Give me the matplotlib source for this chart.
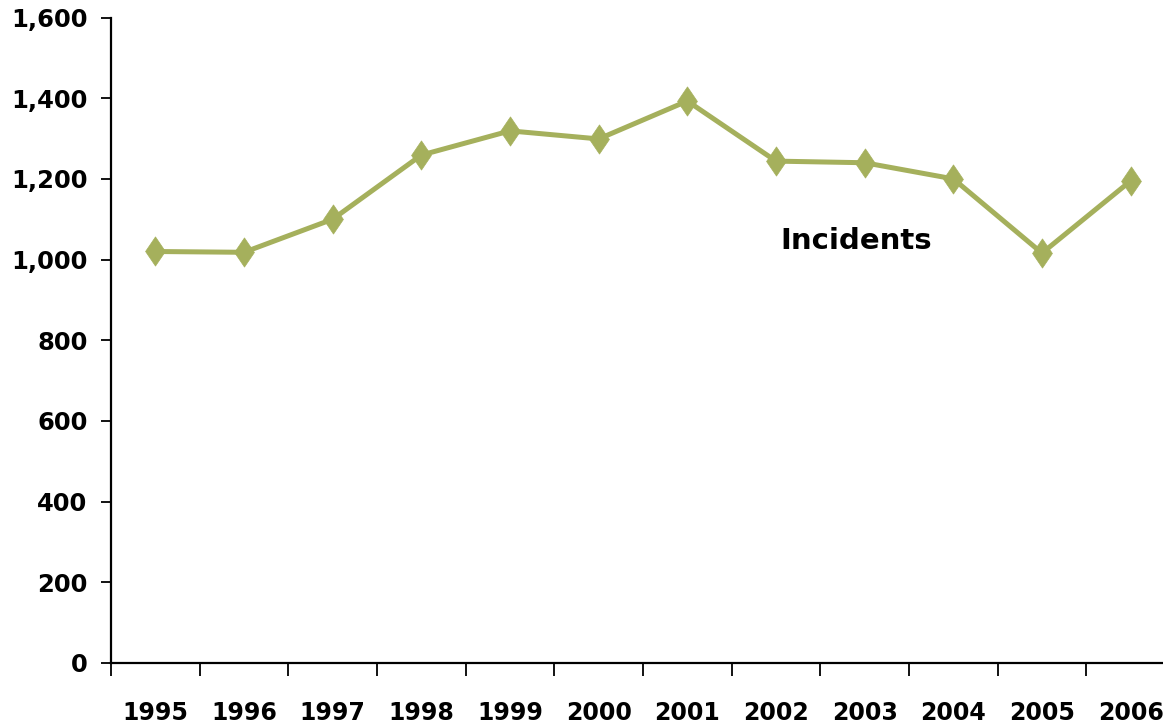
import matplotlib
matplotlib.use("Agg")
import matplotlib.pyplot as plt
from matplotlib.path import Path
from matplotlib.ticker import FixedLocator, FuncFormatter

years = ["1995", "1996", "1997", "1998", "1999", "2000",
         "2001", "2002", "2003", "2004", "2005", "2006"]
incidents = [1020, 1018, 1100, 1259, 1319, 1299, 1393, 1244, 1240, 1200, 1016, 1195]
y_ticks = [0, 200, 400, 600, 800, 1000, 1200, 1400, 1600]

line_color = "#A5B05C"

# diamond a bit wider than matplotlib's thin 'd'
diamond = Path([(0, 1), (0.68, 0), (0, -1), (-0.68, 0), (0, 1)],
               [Path.MOVETO, Path.LINETO, Path.LINETO, Path.LINETO, Path.CLOSEPOLY])

fig = plt.figure(figsize=(11.63, 7.25), dpi=100)
# the category axis runs past the right edge, as in the original slide
ax = fig.add_axes([111 / 1163, 62 / 725, 1064 / 1163, 645.5 / 725])

x = list(range(len(years)))
ax.plot(x, incidents, color=line_color, linewidth=3.6,
        marker=diamond, markersize=21, markerfacecolor=line_color,
        markeredgecolor=line_color, markeredgewidth=0.5)

ax.text(7.05, 1046, "Incidents", fontsize=21, fontweight="bold",
        ha="left", va="center")

ax.set_xlim(-0.5, len(years) - 0.5)
ax.set_ylim(0, 1600)

# ticks between categories, labels at category centres
ax.xaxis.set_major_locator(FixedLocator([i - 0.5 for i in range(len(years) + 1)]))
ax.xaxis.set_major_formatter(FuncFormatter(lambda v, p: ""))
ax.xaxis.set_minor_locator(FixedLocator(x))
ax.set_xticklabels(years, minor=True)
ax.tick_params(axis="x", which="major", length=9, width=1.3, direction="out")
ax.tick_params(axis="x", which="minor", length=0, pad=27, labelsize=17)

ax.set_yticks(y_ticks)
ax.yaxis.set_major_formatter(FuncFormatter(lambda v, p: f"{int(v):,}"))
ax.tick_params(axis="y", length=7, width=1.3, direction="out", labelsize=17.5, pad=10)

for lbl in ax.get_xticklabels(minor=True) + ax.get_yticklabels():
    lbl.set_fontweight("bold")

for side in ("top", "right"):
    ax.spines[side].set_visible(False)
for side in ("left", "bottom"):
    ax.spines[side].set_linewidth(1.6)

fig.savefig("out.png", dpi=100)
